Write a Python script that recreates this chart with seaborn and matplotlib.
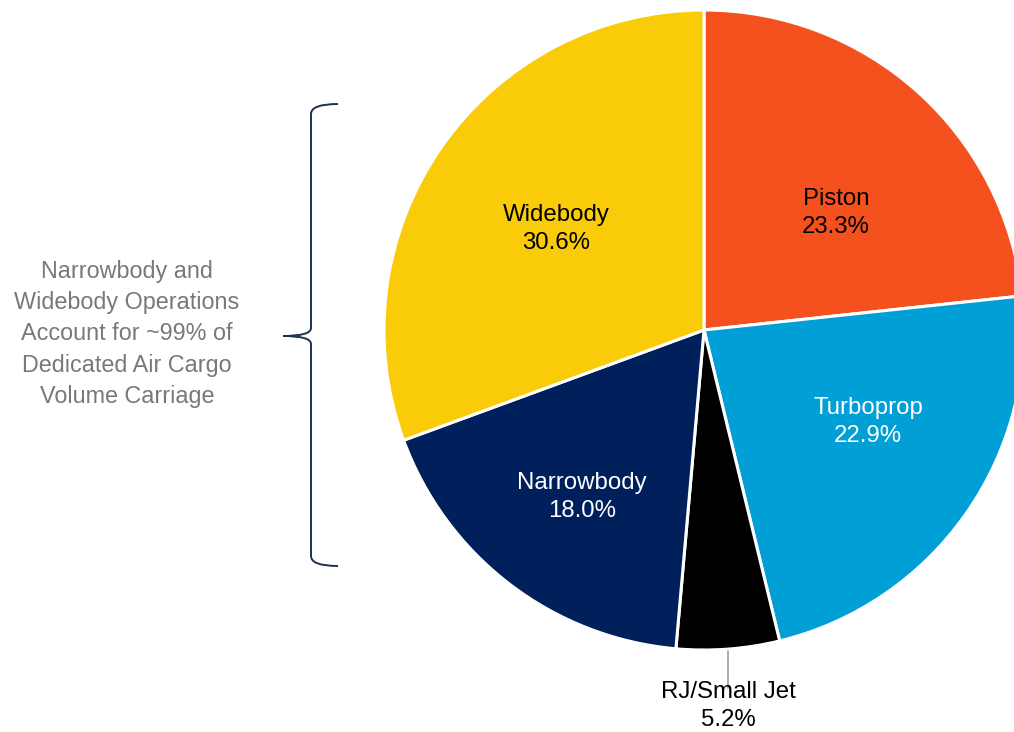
import matplotlib
matplotlib.use("Agg")
import matplotlib.pyplot as plt
import seaborn as sns
from matplotlib.path import Path
from matplotlib.patches import PathPatch

# data
categorii = ["Piston", "Turboprop", "RJ/Small Jet", "Narrowbody", "Widebody"]
procente = [23.3, 22.9, 5.2, 18.0, 30.6]
culori = ["#F4511E", "#00A0D6", "#000000", "#00205B", "#F9CB08"]
culori_text = ["black", "white", "black", "white", "black"]
nota = "Narrowbody and\nWidebody Operations\nAccount for ~99% of\nDedicated Air Cargo\nVolume Carriage"

sns.set_style("white")
plt.rcParams["font.family"] = ["Liberation Sans", "DejaVu Sans"]

W, H = 1014, 732
fig = plt.figure(figsize=(W / 100, H / 100), dpi=100)
ax = fig.add_axes([0, 0, 1, 1])

cx, cy, r = 704, H - 330, 320
wedges, _ = ax.pie(procente, colors=culori, startangle=90, counterclock=False,
                   center=(cx, cy), radius=r,
                   wedgeprops={"edgecolor": "white", "linewidth": 2.2})

# pozitii etichete (pixeli, y de sus)
pozitii = [(836, 213), (868, 422), (728, 706), (582, 497), (556, 229)]
for i in range(len(categorii)):
    px, py = pozitii[i]
    ax.text(px, H - py, categorii[i] + "\n" + f"{procente[i]:.1f}%",
            ha="center", va="center", fontsize=17.3, color=culori_text[i],
            linespacing=1.3)

# linie RJ
ax.plot([728, 728], [H - 651, H - 688], color="#A0A0A0", lw=1.2)

# acolada
x0, x1, xt = 338, 311, 283
y_sus, y_mij, y_jos = 104, 336, 566
pts = [(x0, y_sus), (x1, y_sus), (x1, y_sus + 10),
       (x1, y_mij - 8),
       (x1, y_mij), (xt, y_mij),
       (x1, y_mij), (x1, y_mij + 8),
       (x1, y_jos - 10),
       (x1, y_jos), (x0, y_jos)]
pts = [(x, H - y) for x, y in pts]
coduri = [Path.MOVETO, Path.CURVE3, Path.CURVE3,
          Path.LINETO,
          Path.CURVE3, Path.CURVE3,
          Path.CURVE3, Path.CURVE3,
          Path.LINETO,
          Path.CURVE3, Path.CURVE3]
ax.add_patch(PathPatch(Path(pts, coduri), facecolor="none",
                       edgecolor="#1B3350", lw=1.4))

ax.text(127, H - 334, nota, ha="center", va="center", fontsize=16.8,
        color="#76787A", linespacing=1.46)

ax.set_xlim(0, W)
ax.set_ylim(0, H)
ax.set_aspect("auto")
ax.axis("off")

plt.savefig("out.png", dpi=100)
